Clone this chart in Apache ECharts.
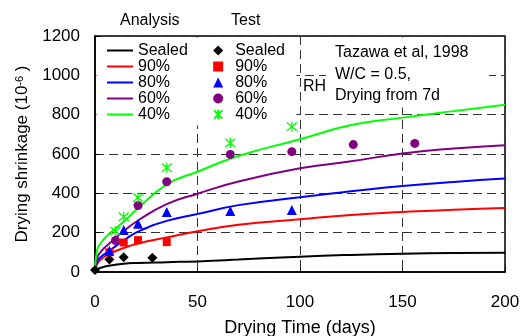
<!DOCTYPE html>
<html>
<head>
<meta charset="utf-8">
<script src="https://cdn.jsdelivr.net/npm/echarts@6.0.0/dist/echarts.min.js"></script>
<style>
  html, body { margin: 0; padding: 0; background: #fff; }
  #chart { width: 521px; height: 336px; }
</style>
</head>
<body>
<div id="chart"></div>
<script>
// analysis curves (drying days -> shrinkage, 10^-6)
var calcDays = [0, 1, 3, 7, 14, 21, 35, 50, 70, 100, 125, 150, 175, 200];
var calcSealed = [0, 12, 22, 32, 42, 46, 50, 54, 63, 78, 87, 93, 96, 98];
var calc90 = [0, 40, 65, 92, 122, 145, 176, 207, 240, 268, 290, 305, 317, 325];
var calc80 = [0, 50, 78, 108, 160, 205, 260, 295, 340, 380, 410, 437, 458, 475];
var calc60 = [0, 70, 105, 145, 208, 262, 345, 398, 460, 527, 563, 603, 628, 645];
var calc40 = [0, 110, 150, 195, 255, 325, 445, 510, 590, 675, 747, 785, 818, 850];

// test points
var testSealedDays = [0, 7, 14, 28];
var testSealed = [10, 63, 75, 73];
var test90Days = [7, 14, 21, 35];
var test90 = [100, 150, 162, 152];
var test80Days = [7, 14, 21, 35, 66, 96];
var test80 = [108, 214, 245, 305, 310, 315];
var test60Days = [10, 21, 35, 66, 96, 126, 156];
var test60 = [160, 338, 459, 598, 612, 648, 654];
var test40Days = [10, 14, 21, 35, 66, 96];
var test40 = [208, 281, 378, 530, 656, 739];

var xTicks = [0, 50, 100, 150, 200];
var yTicks = [0, 200, 400, 600, 800, 1000, 1200];

var calcNames = ['Sealed', '90%', '80%', '60%', '40%'];
var testNames = ['Test Sealed', 'Test 90%', 'Test 80%', 'Test 60%', 'Test 40%'];
var colors = ['#000000', '#ff0000', '#0000ff', '#800080', '#00ff00'];

function pairs(xs, ys) {
  var out = [];
  for (var i = 0; i < xs.length; i++) out.push([xs[i], ys[i]]);
  return out;
}

var FONT = 'Liberation Sans, Arial, sans-serif';
var calcData = [calcSealed, calc90, calc80, calc60, calc40];
var testData = [
  pairs(testSealedDays, testSealed),
  pairs(test90Days, test90),
  pairs(test80Days, test80),
  pairs(test60Days, test60),
  pairs(test40Days, test40)
];
var testSymbols = ['diamond', 'rect', 'triangle', 'circle',
  'path://M0,1L10,11M10,1L0,11M5,0L5,12'];
var testSizes = [10, 8, 10, 9, 10];

var series = [];
for (var i = 0; i < 5; i++) {
  series.push({
    name: calcNames[i],
    type: 'line',
    data: pairs(calcDays, calcData[i]),
    symbol: 'none',
    smooth: 0.5,
    lineStyle: { color: colors[i], width: 2 },
    itemStyle: { color: colors[i] },
    z: 3
  });
}
for (var j = 0; j < 5; j++) {
  var star = j === 4;
  series.push({
    name: testNames[j],
    type: 'scatter',
    data: testData[j],
    symbol: testSymbols[j],
    symbolSize: testSizes[j],
    itemStyle: star
      ? { color: 'rgba(0,0,0,0)', borderColor: colors[j], borderWidth: 1.3, opacity: 1 }
      : { color: colors[j], opacity: 1 },
    z: 4
  });
}

var chart = echarts.init(document.getElementById('chart'));
chart.setOption({
  animation: false,
  textStyle: { fontFamily: FONT },
  grid: {
    left: 95, right: 16, top: 36, bottom: 64,
    outerBoundsMode: 'none', containLabel: false,
    show: true, borderColor: '#000', borderWidth: 1.5, backgroundColor: '#fff'
  },
  xAxis: {
    type: 'value', min: 0, max: 200, interval: 50,
    name: 'Drying Time (days)', nameLocation: 'middle', nameGap: 47,
    nameTextStyle: { fontSize: 18, color: '#000', fontFamily: FONT },
    axisLine: { lineStyle: { color: '#000', width: 1.5 } },
    axisTick: { inside: true, length: 5, lineStyle: { color: '#000' } },
    axisLabel: {
      margin: 22, fontSize: 17, color: '#000', fontFamily: FONT,
      formatter: function (v) { return xTicks.indexOf(v) >= 0 ? String(v) : ''; }
    },
    splitLine: { show: true, lineStyle: { color: '#333', type: [9, 5], width: 1 } }
  },
  yAxis: {
    type: 'value', min: 0, max: 1200, interval: 200,
    name: 'Drying shrinkage (10{sup|-6} )', nameLocation: 'middle', nameGap: 63,
    nameTextStyle: {
      fontSize: 17, color: '#000', fontFamily: FONT,
      rich: { sup: { fontSize: 11, color: '#000', fontFamily: FONT, verticalAlign: 'top', lineHeight: 17 } }
    },
    axisLine: { lineStyle: { color: '#000', width: 1.5 } },
    axisTick: { inside: true, length: 5, lineStyle: { color: '#000' } },
    axisLabel: {
      margin: 15, fontSize: 17, color: '#000', fontFamily: FONT,
      formatter: function (v) { return yTicks.indexOf(v) >= 0 ? String(v) : ''; }
    },
    splitLine: { show: true, lineStyle: { color: '#333', type: [9, 5], width: 1 } }
  },
  legend: [
    {
      data: calcNames, orient: 'vertical', left: 107, top: 42.5, padding: 0,
      icon: 'rect', itemWidth: 26, itemHeight: 2, itemGap: 0,
      textStyle: { fontSize: 16, lineHeight: 15.7, color: '#000', fontFamily: FONT }
    },
    {
      data: testNames, orient: 'vertical', left: 213, top: 42.5, padding: 0,
      itemWidth: 10, itemHeight: 10, itemGap: 0,
      formatter: function (n) { return n.replace('Test ', ''); },
      textStyle: { fontSize: 16, lineHeight: 15.7, color: '#000', fontFamily: FONT, padding: [0, 0, 0, 7] }
    }
  ],
  graphic: [
    { type: 'rect', z: 1, shape: { x: 96.5, y: 37.5, width: 200, height: 88 }, style: { fill: '#fff' } },
    { type: 'rect', z: 1, shape: { x: 326, y: 37.5, width: 163, height: 70 }, style: { fill: '#fff' } },
    { type: 'text', z: 5, x: 120, y: 21, style: { text: 'Analysis', font: '16px ' + FONT, fill: '#000', verticalAlign: 'middle' } },
    { type: 'text', z: 5, x: 231, y: 21, style: { text: 'Test', font: '16px ' + FONT, fill: '#000', verticalAlign: 'middle' } },
    { type: 'text', z: 5, x: 303, y: 87, style: { text: 'RH', font: '16px ' + FONT, fill: '#000', verticalAlign: 'middle' } },
    { type: 'text', z: 5, x: 335, y: 53, style: { text: 'Tazawa et al, 1998', font: '16px ' + FONT, fill: '#000', verticalAlign: 'middle' } },
    { type: 'text', z: 5, x: 335, y: 75, style: { text: 'W/C = 0.5,', font: '16px ' + FONT, fill: '#000', verticalAlign: 'middle' } },
    { type: 'text', z: 5, x: 335, y: 96, style: { text: 'Drying from 7d', font: '16px ' + FONT, fill: '#000', verticalAlign: 'middle' } }
  ],
  series: series
});
</script>
</body>
</html>
